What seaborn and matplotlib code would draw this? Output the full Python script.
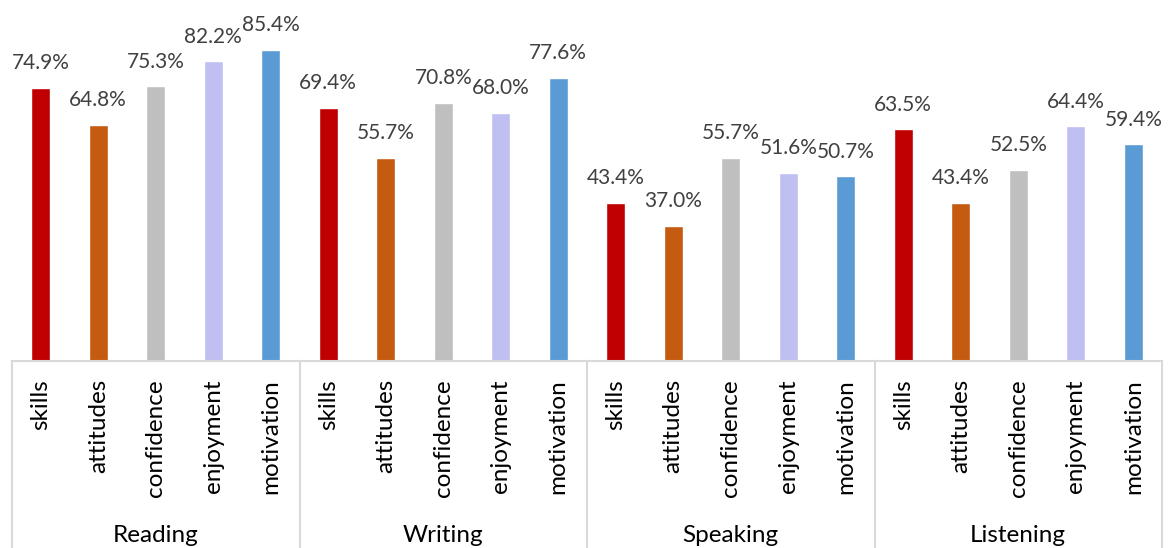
import matplotlib
matplotlib.use("Agg")
import matplotlib.pyplot as plt
import matplotlib.transforms as mtransforms
from matplotlib.lines import Line2D
import pandas as pd
import seaborn as sns

groups = ["Reading", "Writing", "Speaking", "Listening"]
categories = ["skills", "attitudes", "confidence", "enjoyment", "motivation"]
reading = [74.9, 64.8, 75.3, 82.2, 85.4]
writing = [69.4, 55.7, 70.8, 68.0, 77.6]
speaking = [43.4, 37.0, 55.7, 51.6, 50.7]
listening = [63.5, 43.4, 52.5, 64.4, 59.4]
colors = ["#C00000", "#C55A11", "#BFBFBF", "#BFBFF2", "#5B9BD5"]

rows = []
for g, vals in zip(groups, [reading, writing, speaking, listening]):
    for c, v in zip(categories, vals):
        rows.append({"group": g, "category": c, "slot": f"{g}|{c}", "value": v})
df = pd.DataFrame(rows)
order = list(df["slot"])

sns.set_style("white")
plt.rcParams["font.family"] = ["Lato", "DejaVu Sans"]

W, H = 1169, 548
fig = plt.figure(figsize=(W / 100, H / 100), dpi=100)
ax = fig.add_axes([12 / W, (H - 361) / H, 1150 / W, 361 / H])

sns.barplot(data=df, x="slot", y="value", hue="category", order=order,
            hue_order=categories, palette=dict(zip(categories, colors)),
            dodge=False, width=0.33, saturation=1, errorbar=None,
            legend=False, ax=ax)

ax.set_xlim(-0.5, len(order) - 0.5)
ax.set_ylim(0, 99)
ax.set_yticks([])
ax.set_xlabel("")
ax.set_ylabel("")
for s in ["top", "left", "right"]:
    ax.spines[s].set_visible(False)
ax.spines["bottom"].set_color("#D9D9D9")
ax.spines["bottom"].set_linewidth(1.5)

ax.set_xticks(range(len(order)))
ax.set_xticklabels([r["category"] for r in rows], rotation=90, va="top",
                   ha="center", fontsize=17.5, color="black")
ax.tick_params(axis="x", length=0, pad=13)

# value labels above bars
for i, r in enumerate(rows):
    ax.annotate(f"{r['value']:.1f}%", (i, r["value"]), xytext=(0, 10.5),
                textcoords="offset points", ha="center", va="bottom",
                fontsize=15, color="#404040")

# group labels and separators of the two-level category axis
trans = mtransforms.blended_transform_factory(ax.transData, fig.transFigure)
n = len(categories)
for k, g in enumerate(groups):
    xc = k * n + (n - 1) / 2
    ax.text(xc, (H - 536) / H, g, transform=trans, ha="center", va="center",
            fontsize=17.5, color="black")
for k in range(len(groups) + 1):
    xs = k * n - 0.5
    fig.add_artist(Line2D([xs, xs], [0, (H - 361) / H], transform=trans,
                          color="#D9D9D9", lw=1.5))

fig.savefig("out.png", dpi=100)
